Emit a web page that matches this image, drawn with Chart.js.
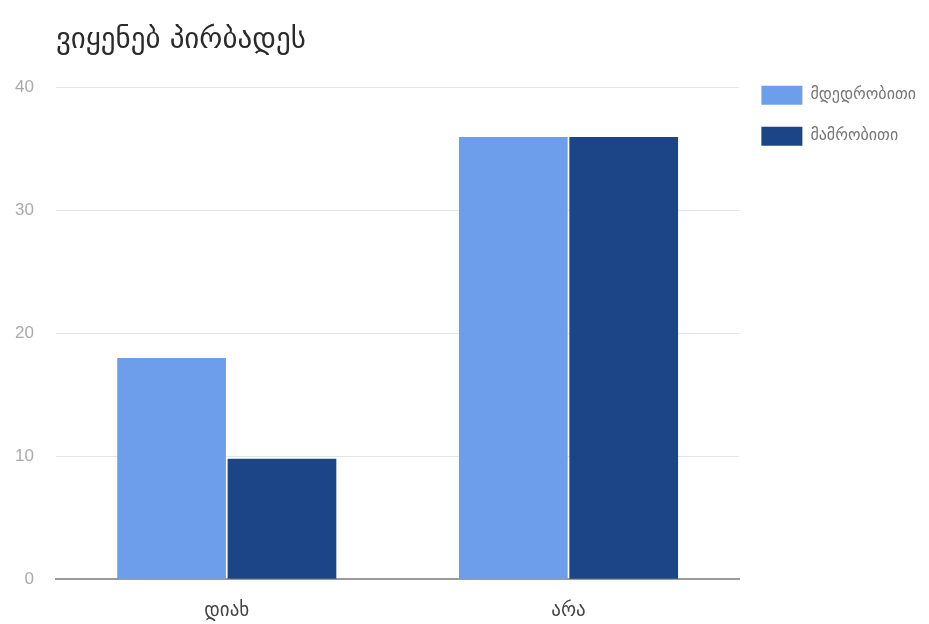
<!DOCTYPE html>
<html>
<head>
<meta charset="utf-8">
<script src="https://cdn.jsdelivr.net/npm/chart.js"></script>
<style>
  html, body { margin: 0; padding: 0; background: #fff; }
  #wrap { width: 929px; height: 624px; }
</style>
</head>
<body>
<div id="wrap"><canvas id="grafico" width="929" height="624"></canvas></div>
<script>
const categorias = ['დიახ', 'არა'];
const mdedrobiti = [18, 36];
const mamrobiti = [9.8, 36];
const seriesNames = ['მდედრობითი', 'მამრობითი'];
const yTicks = [0, 10, 20, 30, 40];

// moves the legend up so its first box sits level with the top gridline
const legendShift = {
    id: 'legendShift',
    afterLayout(chart) {
        const lg = chart.legend;
        if (lg) {
            lg.top -= 24;
            lg.bottom -= 24;
        }
    }
};

const ctx = document.getElementById('grafico').getContext('2d');
const grafico = new Chart(ctx, {
    type: 'bar',
    data: {
        labels: categorias,
        datasets: [{
            label: seriesNames[0],
            data: mdedrobiti,
            backgroundColor: '#6d9eeb',
            categoryPercentage: 0.646,
            barPercentage: 0.985
        }, {
            label: seriesNames[1],
            data: mamrobiti,
            backgroundColor: '#1c4587',
            categoryPercentage: 0.646,
            barPercentage: 0.985
        }]
    },
    options: {
        responsive: false,
        animation: false,
        font: { family: 'DejaVu Sans' },
        layout: { padding: { left: -7, right: 3, top: 0, bottom: -10 } },
        plugins: {
            title: {
                display: true,
                text: 'ვიყენებ პირბადეს',
                align: 'start',
                fullSize: false,
                color: '#2a2a2a',
                font: { family: 'DejaVu Sans', size: 29, weight: 'normal' },
                padding: { top: 23, bottom: 30 }
            },
            legend: {
                position: 'right',
                align: 'start',
                fullSize: false,
                labels: {
                    boxWidth: 41,
                    boxHeight: 19,
                    padding: 22,
                    color: '#777',
                    font: { family: 'DejaVu Sans', size: 16 }
                }
            },
            tooltip: { enabled: false }
        },
        scales: {
            x: {
                grid: { display: false },
                border: { display: true, color: '#9a9a9a', width: 2 },
                ticks: {
                    color: '#444',
                    padding: 12,
                    font: { family: 'DejaVu Sans', size: 19 }
                }
            },
            y: {
                min: yTicks[0],
                max: yTicks[yTicks.length - 1],
                afterBuildTicks(axis) {
                    axis.ticks = yTicks.map(v => ({ value: v }));
                },
                grid: { color: '#e4e4e4', drawTicks: false },
                border: { display: false },
                ticks: {
                    color: '#aaa',
                    padding: 22,
                    font: { family: 'Liberation Sans', size: 17 }
                }
            }
        }
    },
    plugins: [legendShift]
});
</script>
</body>
</html>
